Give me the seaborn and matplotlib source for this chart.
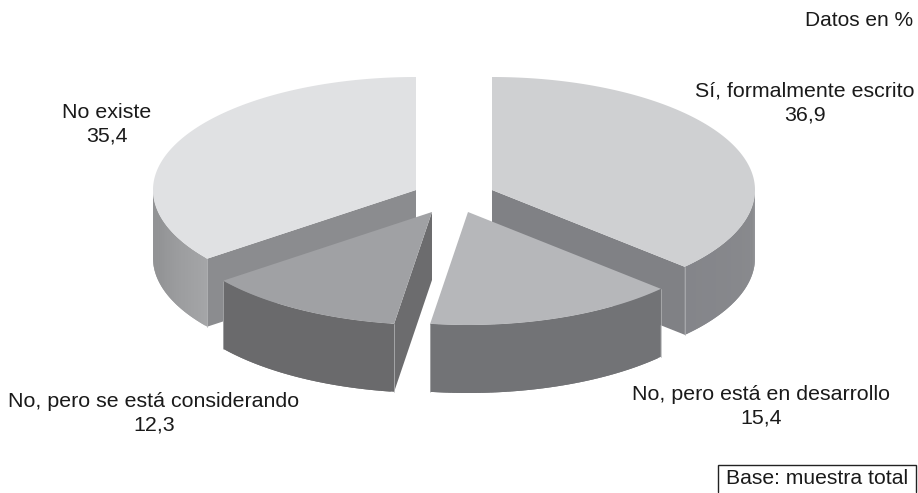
import numpy as np
import matplotlib
matplotlib.use("Agg")
import matplotlib.pyplot as plt
import matplotlib.colors as mc
import seaborn as sns

labels = ["Sí, formalmente escrito", "No, pero está en desarrollo",
          "No, pero se está considerando", "No existe"]
values = [36.9, 15.4, 12.3, 35.4]
value_text = ["36,9", "15,4", "12,3", "35,4"]

# styling / layout (pixel space of the 918x493 canvas)
top_colors = ["#cfd0d2", "#b6b7ba", "#a0a1a4", "#e0e1e3"]
side_start = ["#8a8b8e", "#727376", "#6a6a6c", "#a4a5a7"]
side_end = ["#84858a", "#727376", "#6a6a6c", "#898a8c"]
cut_colors = ["#808185", "#727376", "#6c6c6e", "#8b8c8f"]
centers = [(492, 190), (468, 212), (432, 212), (416, 190)]
label_pos = [(805, 103), (761, 406), (154, 413), (107, 124)]
visible_cut = [1, None, 0, 0]   # which radial edge of a slice faces the viewer
order = [3, 0, 2, 1]
RX, RY, DEPTH = 263, 113, 68

sns.set_theme(style="white")
plt.rcParams["font.family"] = ["Liberation Sans", "DejaVu Sans"]

fig = plt.figure(figsize=(9.18, 4.93), dpi=100)
ax = fig.add_axes([0, 0, 1, 1])
ax.set_xlim(0, 918)
ax.set_ylim(493, 0)
ax.axis("off")

edges = np.concatenate([[0], np.cumsum(values)]) / sum(values) * 2 * np.pi


def pt(c, t, dz=0.0):
    return c[0] + RX * np.sin(t), c[1] - RY * np.cos(t) + dz


for i in order:
    c, t0, t1 = centers[i], edges[i], edges[i + 1]
    if visible_cut[i] is not None:
        px, py = pt(c, edges[i + visible_cut[i]])
        ax.fill([c[0], px, px, c[0]], [c[1], py, py + DEPTH, c[1] + DEPTH],
                color=cut_colors[i], lw=0)
    a, b = max(t0, np.pi / 2), min(t1, 1.5 * np.pi)
    ts = np.linspace(a, b, 60)
    c0, c1 = np.array(mc.to_rgb(side_start[i])), np.array(mc.to_rgb(side_end[i]))
    for k in range(len(ts) - 1):
        f = k / (len(ts) - 2)
        x0, y0 = pt(c, ts[k])
        x1, y1 = pt(c, ts[min(k + 2, len(ts) - 1)])
        col = c0 + (c1 - c0) * f
        ax.fill([x0, x1, x1, x0], [y0, y1, y1 + DEPTH, y0 + DEPTH], color=col, lw=0)
    for t in (a, b):
        if 0.05 < abs(np.sin(t)) < 0.999:
            x, y = pt(c, t)
            ax.plot([x, x], [y, y + DEPTH], color="#b4b5b7", lw=0.5)
    ts = np.linspace(t0, t1, 160)
    xs, ys = pt(c, ts)
    ax.fill(np.r_[c[0], xs], np.r_[c[1], ys], color=top_colors[i], lw=0)

for (x, y), lab, val in zip(label_pos, labels, value_text):
    ax.text(x, y, f"{lab}\n{val}", ha="center", va="center", fontsize=15.4,
            color="#1a1a1a", linespacing=1.27)

ax.text(913, 20, "Datos en %", ha="right", va="center", fontsize=15.0, color="#1a1a1a")
ax.text(817, 478, "Base: muestra total", ha="center", va="center", fontsize=15.2, color="#1a1a1a")
ax.plot([718, 718, 916, 916], [492, 465, 465, 492], color="#222222", lw=1.0, solid_joinstyle="miter")

fig.savefig("out.png", dpi=100, facecolor="white")
